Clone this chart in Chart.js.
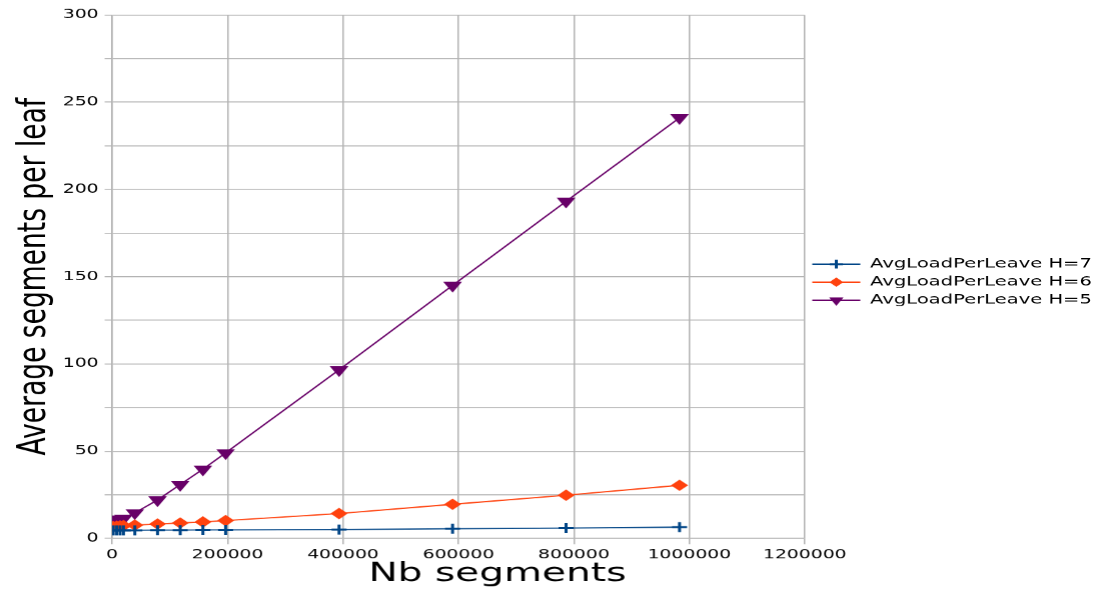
<!DOCTYPE html>
<html>
<head>
<meta charset="utf-8">
<script src="https://cdn.jsdelivr.net/npm/chart.js@4.4.1/dist/chart.umd.min.js"></script>
<style>
  html, body { margin: 0; padding: 0; background: #fff; overflow: hidden; }
</style>
</head>
<body>
<!-- drawn at 729 logical px wide, shown 1.5x wider like the original picture -->
<canvas id="chart" width="729" height="589" style="width:1094px;height:589px"></canvas>
<script>
const nbSegments = [1966, 7864, 13763, 19661, 39322, 78643, 117965, 157286, 196608, 393216, 589824, 786432, 983040];
const loadH7 = [4.6, 4.6, 4.6, 4.6, 4.6, 4.7, 4.7, 4.8, 4.8, 5.0, 5.5, 5.9, 6.4];
const loadH6 = [6.8, 7.0, 7.1, 7.3, 7.6, 8.2, 8.8, 9.4, 10.2, 14.2, 19.5, 24.7, 30.4];
const loadH5 = [10.0, 10.6, 11.0, 11.4, 14.6, 22.0, 30.8, 39.6, 49.0, 96.6, 145.0, 193.2, 241.1];
const seriesNames = ['AvgLoadPerLeave H=7', 'AvgLoadPerLeave H=6', 'AvgLoadPerLeave H=5'];
const xTitle = 'Nb segments';
const yTitle = 'Average segments per leaf';

Chart.defaults.font.family = "'DejaVu Sans', sans-serif";
Chart.defaults.color = '#000';

const toPoints = ys => nbSegments.map((x, i) => ({ x: x, y: ys[i] }));

// symbol on top of the legend line, smaller than the plot markers
const legendSymbols = {
  id: 'legendSymbols',
  afterDraw(chart) {
    const legend = chart.legend;
    if (!legend || !legend.legendHitBoxes || !Chart.helpers) return;
    const ctx = chart.ctx;
    legend.legendHitBoxes.forEach((box, i) => {
      const ds = chart.data.datasets[legend.legendItems[i].datasetIndex];
      ctx.save();
      ctx.fillStyle = ds.pointBackgroundColor;
      ctx.strokeStyle = ds.pointBorderColor;
      ctx.lineWidth = ds.pointBorderWidth;
      Chart.helpers.drawPoint(ctx, {
        pointStyle: ds.pointStyle,
        rotation: ds.pointRotation || 0,
        radius: ds.legendRadius,
        borderWidth: ds.pointBorderWidth
      }, box.left + 16, box.top + box.height / 2);
      ctx.restore();
    });
  }
};

// x axis title sits a bit right of the plot centre in the original
const axisTitleX = {
  id: 'axisTitleX',
  afterDraw(chart) {
    const a = chart.chartArea;
    const ctx = chart.ctx;
    ctx.save();
    ctx.font = "26px 'DejaVu Sans', sans-serif";
    ctx.fillStyle = '#000';
    ctx.textAlign = 'center';
    ctx.textBaseline = 'middle';
    ctx.fillText(xTitle, (a.left + a.right) / 2 + 26, a.bottom + 36);
    ctx.restore();
  }
};

const chart = new Chart(document.getElementById('chart'), {
  type: 'line',
  data: {
    datasets: [
      {
        label: seriesNames[0],
        data: toPoints(loadH7),
        borderColor: '#004586',
        backgroundColor: '#004586',
        borderWidth: 1.2,
        pointStyle: 'cross',
        pointRadius: 5,
        legendRadius: 4.4,
        pointBorderWidth: 2,
        pointBackgroundColor: '#004586',
        pointBorderColor: '#004586'
      }, {
        label: seriesNames[1],
        data: toPoints(loadH6),
        borderColor: '#ff420e',
        backgroundColor: '#ff420e',
        borderWidth: 1.2,
        pointStyle: 'rectRot',
        pointRadius: 5,
        legendRadius: 4,
        pointBorderWidth: 1,
        pointBackgroundColor: '#ff420e',
        pointBorderColor: '#ff420e'
      }, {
        label: seriesNames[2],
        data: toPoints(loadH5),
        borderColor: '#680068',
        backgroundColor: '#680068',
        borderWidth: 1.2,
        pointStyle: 'triangle',
        pointRotation: 180,
        pointRadius: 6.2,
        legendRadius: 4.6,
        pointBorderWidth: 1,
        pointBackgroundColor: '#680068',
        pointBorderColor: '#680068'
      }
    ]
  },
  options: {
    responsive: false,
    devicePixelRatio: 1.5,
    animation: false,
    layout: { padding: { top: 15 } },
    elements: { line: { tension: 0, fill: false } },
    scales: {
      x: {
        type: 'linear',
        min: 0,
        max: 1200000,
        afterFit: s => { s.height = 51; },
        ticks: {
          stepSize: 200000,
          maxRotation: 0,
          autoSkip: false,
          padding: 3,
          font: { size: 12.5 },
          callback: v => String(v)
        },
        grid: { color: '#b3b3b3', tickLength: 6, tickColor: '#b3b3b3' },
        border: { color: '#b3b3b3' }
      },
      y: {
        min: 0,
        max: 300,
        afterFit: s => { s.width = 74.7; },
        ticks: {
          stepSize: 25,
          padding: 4,
          font: { size: 12.5 },
          callback: v => (v % 50 === 0 ? String(v) : '')
        },
        grid: { color: '#b3b3b3', tickLength: 5, tickColor: '#b3b3b3' },
        border: { color: '#b3b3b3' },
        title: {
          display: true,
          text: yTitle,
          font: { size: 26.5 },
          padding: { top: 7, bottom: 0 }
        }
      }
    },
    plugins: {
      legend: {
        position: 'right',
        align: 'start',
        maxWidth: 193,
        // empty title only pushes the entries down to mid height
        title: { display: true, text: '', font: { size: 10 }, padding: { top: 225.5, bottom: 0 } },
        labels: {
          usePointStyle: true,
          pointStyle: 'line',
          pointStyleWidth: 32,
          boxHeight: 6,
          padding: 5,
          font: { size: 13 },
          color: '#000',
          generateLabels: chart =>
            Chart.defaults.plugins.legend.labels.generateLabels(chart).map(item => {
              const ds = chart.data.datasets[item.datasetIndex];
              item.strokeStyle = ds.borderColor;
              item.lineWidth = 1.2;
              return item;
            })
        }
      },
      tooltip: { enabled: false }
    }
  },
  plugins: [legendSymbols, axisTitleX]
});
</script>
</body>
</html>
